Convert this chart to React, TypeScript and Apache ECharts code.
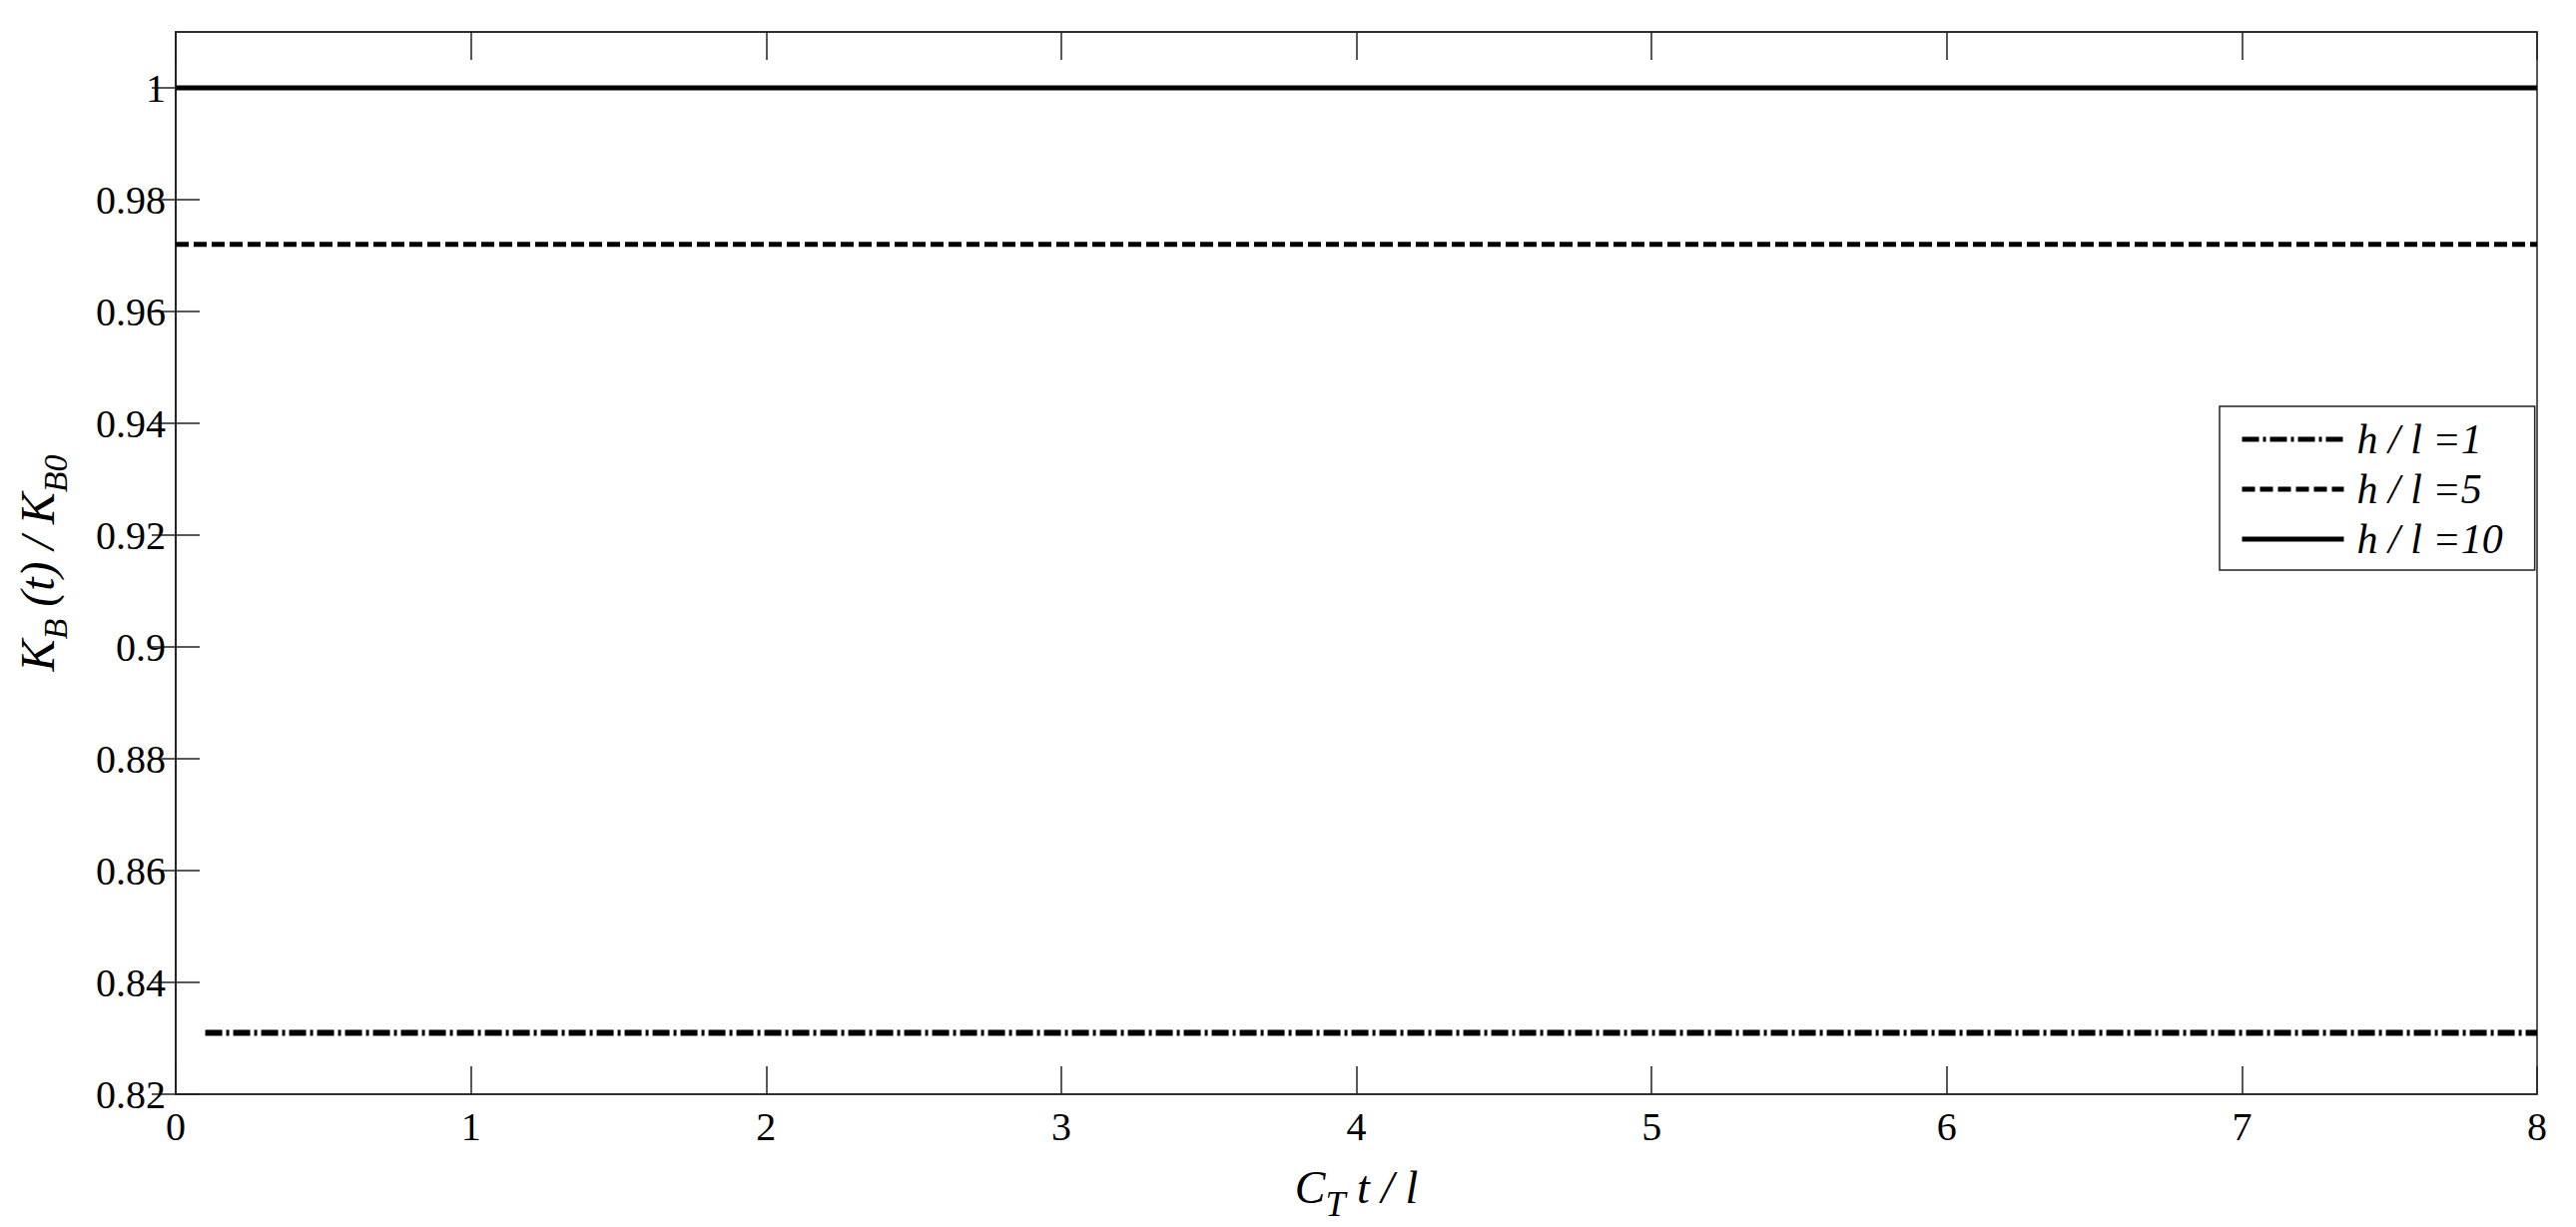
import React, { useEffect, useRef } from "react";
import * as echarts from "echarts";

const xTicks = [0, 1, 2, 3, 4, 5, 6, 7, 8];
const yTicks = [0.82, 0.84, 0.86, 0.88, 0.9, 0.92, 0.94, 0.96, 0.98, 1];
const yMax = 1.01;

const seriesNames = ["h / l =1", "h / l =5", "h / l =10"];
const xH1 = [0.1, 1, 2, 3, 4, 5, 6, 7, 8];
const yH1 = [0.831, 0.831, 0.831, 0.831, 0.831, 0.831, 0.831, 0.831, 0.831];
const xH5 = [0, 1, 2, 3, 4, 5, 6, 7, 8];
const yH5 = [0.972, 0.972, 0.972, 0.972, 0.972, 0.972, 0.972, 0.972, 0.972];
const xH10 = [0, 1, 2, 3, 4, 5, 6, 7, 8];
const yH10 = [1.0, 1.0, 1.0, 1.0, 1.0, 1.0, 1.0, 1.0, 1.0];

const FONT = "Liberation Serif";

function pairs(xs: number[], ys: number[]) {
  return xs.map((x, i) => [x, ys[i]]);
}

export default function App() {
  const ref = useRef<HTMLDivElement>(null);
  useEffect(() => {
    const chart = echarts.init(ref.current!, null, { renderer: "svg" });
    const axisLine = { show: true, lineStyle: { color: "#222", width: 1.5 } };
    const tickStyle = { color: "#222", width: 1.5 };
    const labelStyle = { fontFamily: FONT, fontSize: 40, color: "#000" };
    const richX = {
      i: { fontFamily: FONT, fontStyle: "italic", fontSize: 46, color: "#000" },
      s: { fontFamily: FONT, fontStyle: "italic", fontSize: 36, color: "#000", padding: [34, 0, 0, 0] },
    };
    const richY = {
      i: { fontFamily: FONT, fontStyle: "italic", fontSize: 48, color: "#000" },
      s: { fontFamily: FONT, fontStyle: "italic", fontSize: 34, color: "#000", padding: [36, 0, 0, 0] },
    };
    chart.setOption({
      animation: false,
      backgroundColor: "#fff",
      grid: {
        left: 176,
        top: 32,
        right: 39,
        bottom: 130,
        show: true,
        borderColor: "#222",
        borderWidth: 1.5,
      },
      legend: {
        orient: "vertical",
        left: 2223,
        top: 407,
        itemWidth: 102,
        itemHeight: 20,
        itemGap: 8,
        padding: [12, 32, 10, 20],
        borderColor: "#222",
        borderWidth: 1.5,
        borderRadius: 0,
        backgroundColor: "#fff",
        itemStyle: { opacity: 0 },
        lineStyle: { width: 5, color: "#000" },
        textStyle: {
          fontFamily: FONT,
          fontStyle: "italic",
          fontSize: 42,
          color: "#000",
          padding: [0, 0, 0, 8],
        },
        data: seriesNames.map((n) => ({ name: n })),
      },
      xAxis: [
        {
          type: "value",
          position: "bottom",
          min: xTicks[0],
          max: xTicks[xTicks.length - 1],
          interval: 1,
          axisLine,
          axisTick: { show: true, inside: true, length: 28, lineStyle: tickStyle },
          axisLabel: { ...labelStyle, margin: 12 },
          splitLine: { show: false },
          name: "{i|C}{s|T}{i| t / l}",
          nameLocation: "middle",
          nameGap: 58,
          nameTextStyle: { rich: richX },
        },
        {
          type: "value",
          position: "top",
          min: xTicks[0],
          max: xTicks[xTicks.length - 1],
          interval: 1,
          axisLine,
          axisTick: { show: true, inside: true, length: 28, lineStyle: tickStyle },
          axisLabel: { show: false },
          splitLine: { show: false },
        },
      ],
      yAxis: [
        {
          type: "value",
          position: "left",
          min: yTicks[0],
          max: yMax,
          interval: 0.02,
          axisLine,
          axisTick: { show: true, inside: true, length: 24, lineStyle: tickStyle, customValues: yTicks },
          axisLabel: { ...labelStyle, margin: 10, customValues: yTicks },
          splitLine: { show: false },
          name: "{i|K}{s|B}{i| (t) / K}{s|B0}",
          nameLocation: "middle",
          nameRotate: 90,
          nameGap: 104,
          nameTextStyle: { rich: richY },
        },
        {
          type: "value",
          position: "right",
          min: yTicks[0],
          max: yMax,
          interval: 0.02,
          axisLine,
          axisTick: { show: true, inside: true, length: 24, lineStyle: tickStyle, customValues: yTicks },
          axisLabel: { show: false },
          splitLine: { show: false },
        },
      ],
      series: [
        {
          name: seriesNames[0],
          type: "line",
          symbol: "none",
          data: pairs(xH1, yH1),
          itemStyle: { color: "#000" },
          lineStyle: { color: "#000", width: 6, type: [17, 4, 3, 4] },
        },
        {
          name: seriesNames[1],
          type: "line",
          symbol: "none",
          data: pairs(xH5, yH5),
          itemStyle: { color: "#000" },
          lineStyle: { color: "#000", width: 5, type: [13, 5] },
        },
        {
          name: seriesNames[2],
          type: "line",
          symbol: "none",
          data: pairs(xH10, yH10),
          itemStyle: { color: "#000" },
          lineStyle: { color: "#000", width: 5, type: "solid" },
        },
      ],
    });
    return () => chart.dispose();
  }, []);
  return (
    <div
      ref={ref}
      style={{ position: "fixed", left: 0, top: 0, width: "2580px", height: "1229px", background: "#fff" }}
    />
  );
}
